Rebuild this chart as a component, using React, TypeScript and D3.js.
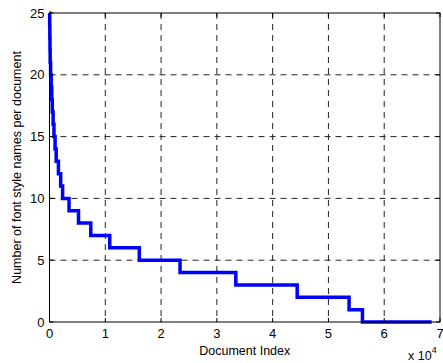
import React, { useEffect, useRef } from "react";
import * as d3 from "d3";

// number of font style names, one step per value (sorted descending)
const counts = [25, 24, 23, 22, 21, 20, 19, 18, 17, 16, 15, 14, 13, 12, 11, 10, 9, 8, 7, 6, 5, 4, 3, 2, 1, 0];
// document index (x 10^4) where each step ends
const stepEnds = [0.003, 0.006, 0.009, 0.012, 0.02, 0.03, 0.04, 0.05, 0.065, 0.08, 0.1, 0.12, 0.16, 0.2, 0.235, 0.35, 0.52, 0.74, 1.08, 1.61, 2.34, 3.34, 4.44, 5.37, 5.61, 6.85];
const xTicks = [0, 1, 2, 3, 4, 5, 6, 7];
const yTicks = [0, 5, 10, 15, 20, 25];

const W = 443;
const H = 363;

const App = () => {
  const ref = useRef<SVGSVGElement>(null);

  useEffect(() => {
    const svg = d3.select(ref.current);
    svg.selectAll("*").remove();

    const margin = { top: 13, right: 3, bottom: 41, left: 49.5 };
    const width = W - margin.left - margin.right;
    const height = H - margin.top - margin.bottom;
    const font = "'Liberation Sans', Arial, Helvetica, sans-serif";

    const x = d3.scaleLinear().domain([0, 7]).range([0, width]);
    const y = d3.scaleLinear().domain([0, 25]).range([height, 0]);

    const g = svg.append("g").attr("transform", `translate(${margin.left},${margin.top})`);

    // grid
    g.selectAll(".gx")
      .data(xTicks.slice(1, -1))
      .enter()
      .append("line")
      .attr("x1", (d) => x(d))
      .attr("x2", (d) => x(d))
      .attr("y1", 0)
      .attr("y2", height)
      .attr("stroke", "#222")
      .attr("stroke-width", 1)
      .attr("stroke-dasharray", "6,5");
    g.selectAll(".gy")
      .data(yTicks.slice(1, -1))
      .enter()
      .append("line")
      .attr("x1", 0)
      .attr("x2", width)
      .attr("y1", (d) => y(d))
      .attr("y2", (d) => y(d))
      .attr("stroke", "#222")
      .attr("stroke-width", 1)
      .attr("stroke-dasharray", "6,5");

    // step line
    const pts: [number, number][] = counts.map((c, i) => [i === 0 ? 0 : stepEnds[i - 1], c]);
    pts.push([stepEnds[stepEnds.length - 1], counts[counts.length - 1]]);
    const line = d3
      .line<[number, number]>()
      .x((d) => x(d[0]))
      .y((d) => y(d[1]))
      .curve(d3.curveStepAfter);
    g.append("path")
      .attr("d", line(pts))
      .attr("fill", "none")
      .attr("stroke", "#0000ff")
      .attr("stroke-width", 3.5);

    // box + ticks
    g.append("rect")
      .attr("width", width)
      .attr("height", height)
      .attr("fill", "none")
      .attr("stroke", "#000")
      .attr("stroke-width", 1);
    const tl = 4;
    xTicks.forEach((t) => {
      g.append("line").attr("x1", x(t)).attr("x2", x(t)).attr("y1", height).attr("y2", height - tl).attr("stroke", "#000");
      g.append("line").attr("x1", x(t)).attr("x2", x(t)).attr("y1", 0).attr("y2", tl).attr("stroke", "#000");
    });
    yTicks.forEach((t) => {
      g.append("line").attr("x1", 0).attr("x2", tl).attr("y1", y(t)).attr("y2", y(t)).attr("stroke", "#000");
      g.append("line").attr("x1", width).attr("x2", width - tl).attr("y1", y(t)).attr("y2", y(t)).attr("stroke", "#000");
    });

    // tick labels
    g.selectAll(".xl")
      .data(xTicks)
      .enter()
      .append("text")
      .attr("x", (d) => x(d))
      .attr("y", height + 16)
      .attr("text-anchor", "middle")
      .attr("font-family", font)
      .attr("font-size", 13)
      .text((d) => d);
    g.selectAll(".yl")
      .data(yTicks)
      .enter()
      .append("text")
      .attr("x", -5)
      .attr("y", (d) => y(d) + 4.5)
      .attr("text-anchor", "end")
      .attr("font-family", font)
      .attr("font-size", 13)
      .text((d) => d);

    // axis labels
    g.append("text")
      .attr("x", width / 2)
      .attr("y", height + 33)
      .attr("text-anchor", "middle")
      .attr("font-family", font)
      .attr("font-size", 12.5)
      .text("Document Index");
    g.append("text")
      .attr("transform", `translate(${-margin.left + 21},${height / 2}) rotate(-90)`)
      .attr("text-anchor", "middle")
      .attr("font-family", font)
      .attr("font-size", 12.5)
      .text("Number of font style names per document");

    // exponent
    const ex = g.append("text")
      .attr("x", width - 32)
      .attr("y", height + 38)
      .attr("font-family", font)
      .attr("font-size", 12.5);
    ex.append("tspan").text("x 10");
    ex.append("tspan").attr("dy", -7).attr("font-size", 9).text("4");
  }, []);

  return (
    <svg
      ref={ref}
      width={W}
      height={H}
      style={{ position: "absolute", left: 0, top: 0, background: "#fff" }}
    />
  );
};

export default App;
